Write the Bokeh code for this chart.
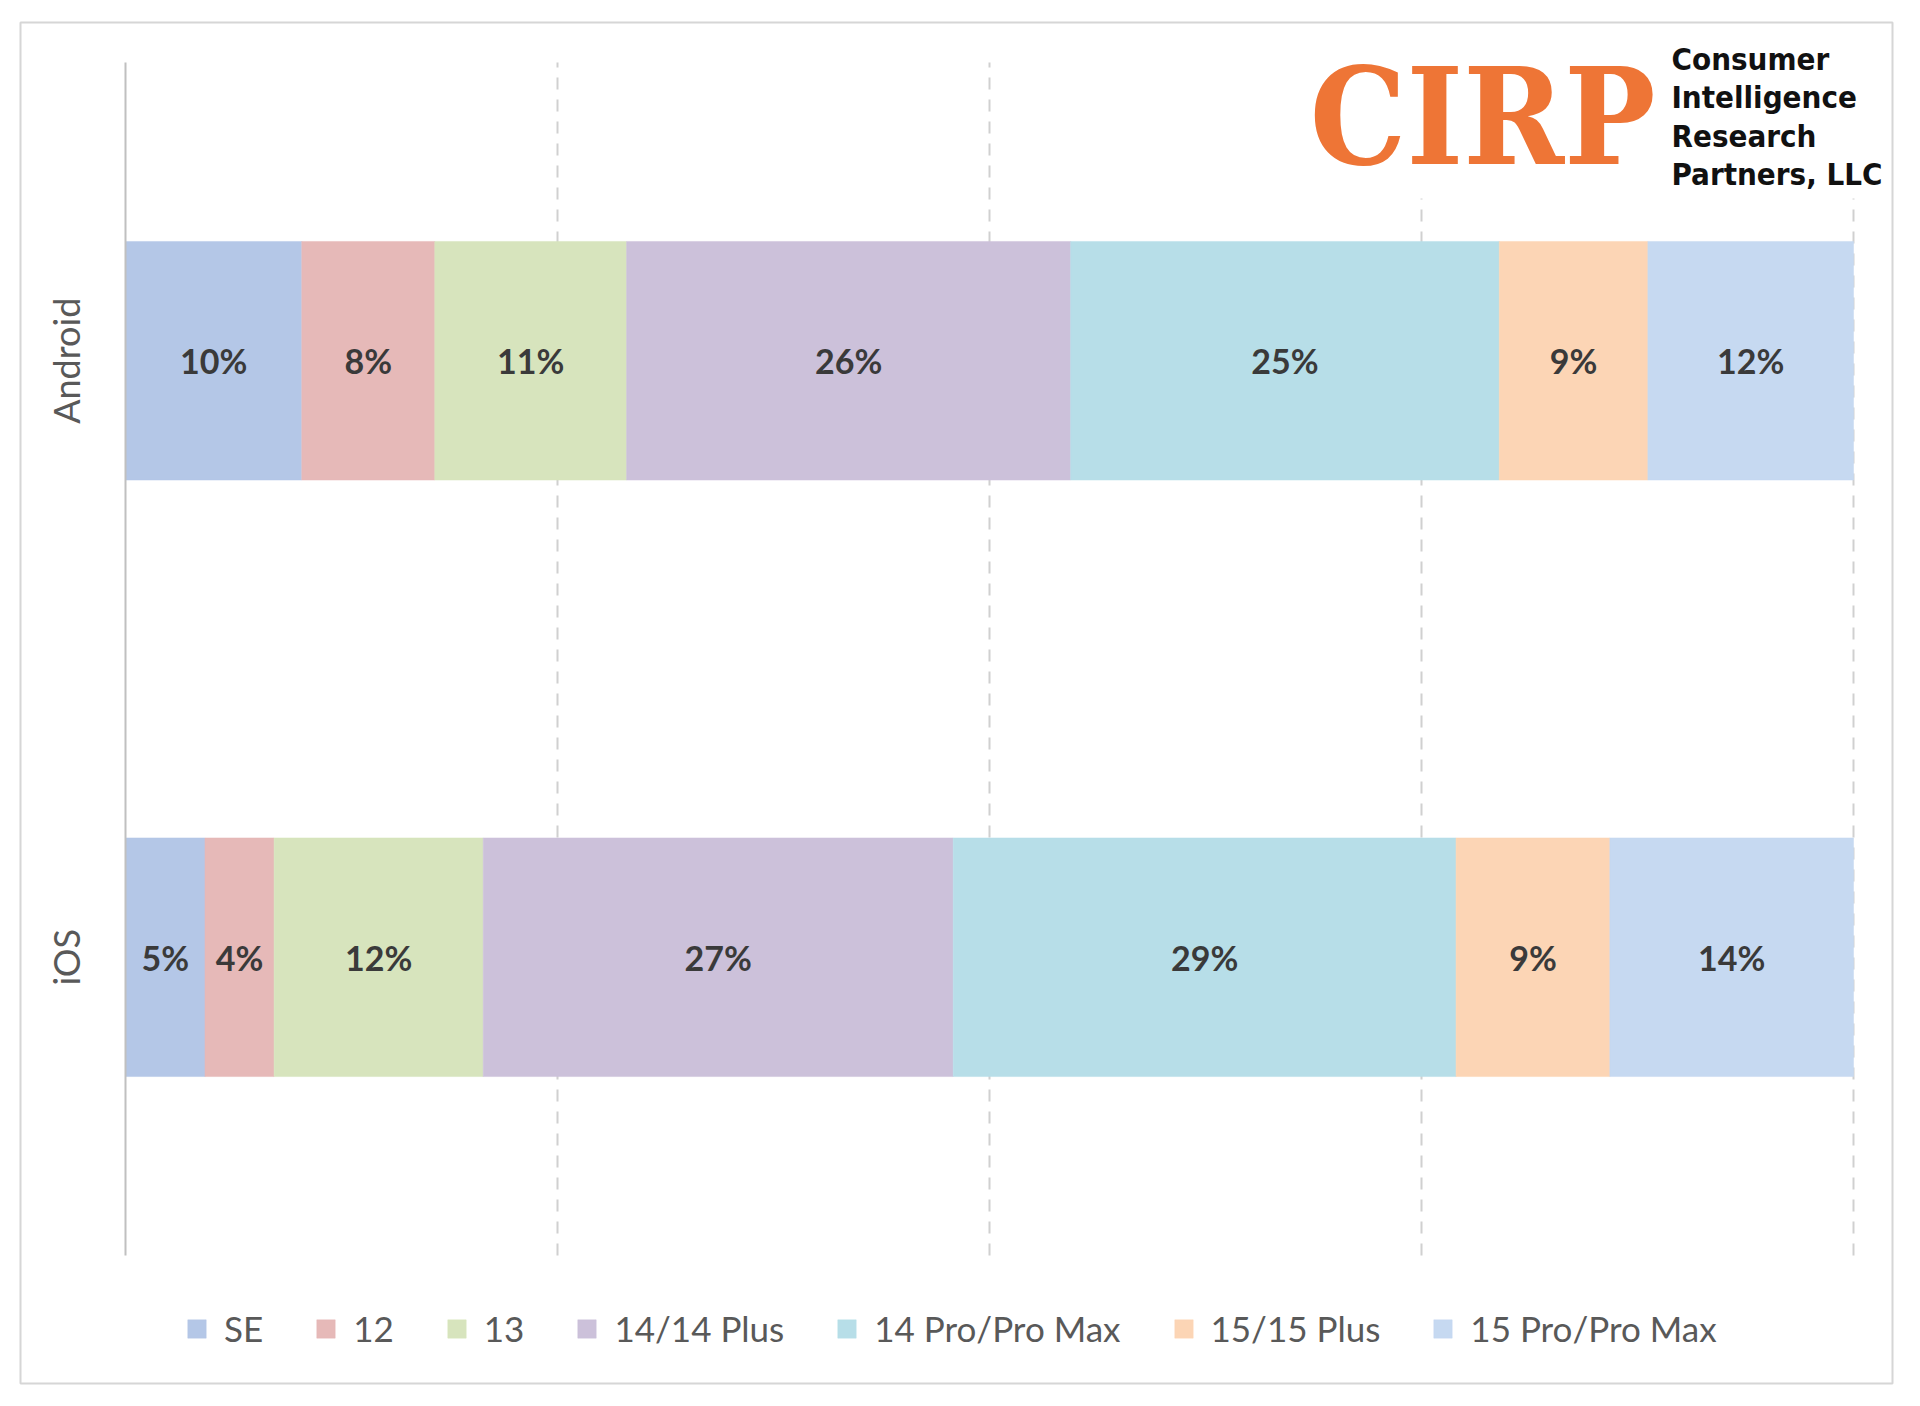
from bokeh.plotting import figure
from bokeh.models import (Range1d, Legend, LegendItem, Label, BoxAnnotation,
                          ColumnDataSource, FixedTicker)
from bokeh.core.properties import value
from bokeh.embed import file_html
from bokeh.resources import INLINE

# ---------------- data ----------------
platforms = ["Android", "iOS"]
models = ["SE", "12", "13", "14/14 Plus", "14 Pro/Pro Max", "15/15 Plus", "15 Pro/Pro Max"]
android = [10.2, 7.7, 11.1, 25.7, 24.8, 8.6, 11.9]
ios = [4.6, 4.0, 12.1, 27.2, 29.1, 8.9, 14.1]
colors = ["#B4C7E7", "#E6B9B8", "#D7E4BD", "#CCC1DA", "#B7DEE8", "#FCD5B5", "#C6D9F1"]
grid_ticks = [25, 50, 75, 100]

# ---------------- geometry (page pixels) ----------------
W, H = 1912, 1404
BL, BR, BT, BB = 20, 1892, 22, 1383          # chart border = frame
AX0, AXB = 125, 1255                         # x of 0 %, y of bottom of category band
PX_PER_PCT = 17.28
PX_PER_CAT = 596.5

def dx(px):
    return (px - AX0) / PX_PER_PCT

def dy(py):
    return (AXB - py) / PX_PER_CAT

def label_y(baseline_px, size_px):
    # Label places the alphabetic baseline ~0.36 em below the anchor
    return dy(baseline_px - 0.36 * size_px)

n = len(platforms)
ypos = [n - 0.5 - i for i in range(n)]         # Android on top

p = figure(width=W, height=H, output_backend="svg", toolbar_location=None,
           x_range=Range1d(dx(BL), dx(BR)), y_range=Range1d(dy(BB), dy(BT)),
           x_axis_location=None,
           min_border_left=BL, min_border_right=W - BR,
           min_border_top=BT, min_border_bottom=H - BB)
p.outline_line_color = "#D6D6D6"
p.outline_line_width = 2
p.background_fill_color = "white"
p.border_fill_color = "white"
p.xgrid.grid_line_color = None
p.ygrid.grid_line_color = None

# dashed vertical gridlines (behind bars)
gsrc = ColumnDataSource(dict(x=grid_ticks, y0=[0] * len(grid_ticks),
                             y1=[n] * len(grid_ticks)))
p.segment(x0="x", y0="y0", x1="x", y1="y1", source=gsrc,
          line_color="#D0D0D0", line_width=2, line_dash="12 10")

keys = [f"m{i}" for i in range(len(models))]
data = {"y": ypos}
for i, k in enumerate(keys):
    data[k] = [android[i], ios[i]]
src = ColumnDataSource(data)
renderers = p.hbar_stack(keys, y="y", height=0.4, color=colors,
                         line_color=colors, line_width=0.5, source=src)

# segment labels
lx, ly, lt = [], [], []
for yv, vals in zip(ypos, [android, ios]):
    left = 0.0
    for v in vals:
        lx.append(left + v / 2)
        ly.append(yv)
        lt.append(f"{round(v)}%")
        left += v
lsrc = ColumnDataSource(dict(x=lx, y=ly, t=lt))
p.text(x="x", y="y", text="t", source=lsrc, text_align="center",
       text_baseline="middle", text_font=value("Lato"),
       text_font_style="bold", text_font_size="34px", text_color="#3A3A3A")

# y axis (category labels), drawn at x = 0 inside the chart border
ax = p.yaxis[0]
ax.fixed_location = 0
ax.ticker = FixedTicker(ticks=ypos)
ax.major_label_overrides = {yv: name for yv, name in zip(ypos, platforms)}
ax.bounds = (0, n)
ax.major_label_orientation = "vertical"
ax.major_label_text_font = "Lato"
ax.major_label_text_font_size = "36px"
ax.major_label_text_color = "#595959"
ax.major_label_standoff = 32
ax.major_tick_line_color = None
ax.minor_tick_line_color = None
ax.axis_line_color = "#C0C0C0"
ax.axis_line_width = 2

# legend (inside the border, under the plot area)
items = [LegendItem(label=m, renderers=[r]) for m, r in zip(models, renderers)]
legend = Legend(items=items, orientation="horizontal", location=(165, 34),
                label_text_font="Lato", label_text_font_size="35px",
                label_text_color="#595959", glyph_width=23, glyph_height=23,
                label_standoff=16, spacing=51, padding=0, margin=0,
                border_line_color=None, background_fill_alpha=0)
p.add_layout(legend, "center")

# logo
p.add_layout(BoxAnnotation(left=dx(1290), right=dx(1889), top=dy(24), bottom=dy(198),
                           fill_color="white", fill_alpha=1, line_color=None))
p.add_layout(Label(x=dx(1655), y=label_y(165, 135), text="CIRP", text_align="right",
                   text_baseline="alphabetic",
                   text_font="DejaVu Serif Condensed, DejaVu Serif",
                   text_font_style="bold",
                   text_font_size="135px", text_color="#EE7536"))
for txt, base in zip(["Consumer", "Intelligence", "Research", "Partners, LLC"],
                     [70, 108, 147, 185]):
    p.add_layout(Label(x=dx(1671), y=label_y(base, 31), text=txt, text_align="left",
                       text_baseline="alphabetic",
                       text_font="DejaVu Sans Condensed, DejaVu Sans",
                       text_font_style="bold",
                       text_font_size="31px", text_color="#111111"))

open("out.html", "w").write(file_html(p, INLINE))
